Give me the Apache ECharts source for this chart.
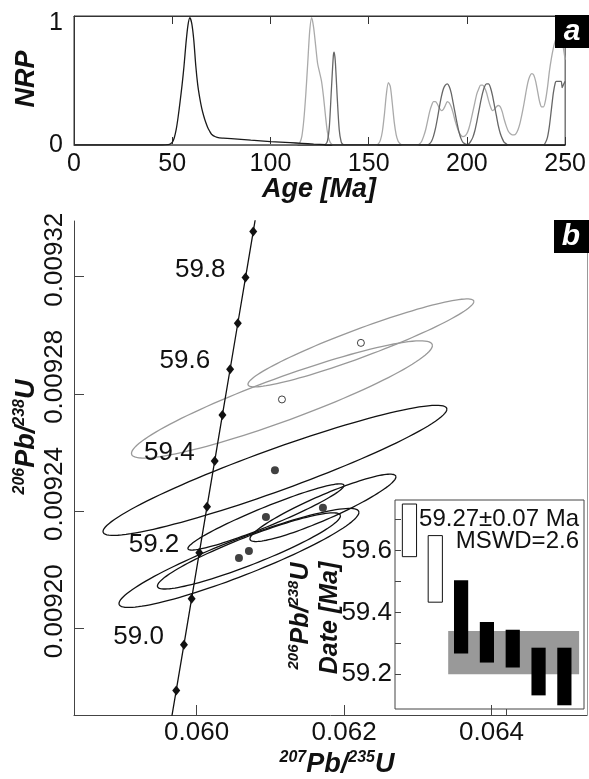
<!DOCTYPE html>
<html>
<head>
<meta charset="utf-8">
<script src="https://cdn.jsdelivr.net/npm/echarts@6/dist/echarts.min.js"></script>
<style>
html, body { margin: 0; padding: 0; background: #fff; }
#chart { width: 589px; height: 779px; }
</style>
</head>
<body>
<div id="chart"></div>
<script>
// ---- panel a : normalised relative probability (NRP) curves ----
const blackAge = [0, 45, 48, 49, 50, 51, 52, 53, 54, 55, 56, 57, 58, 59, 60, 61, 62, 63, 64, 65, 66, 67, 68, 69, 70, 72, 74, 76, 80, 90, 100, 110, 116, 122, 128, 132, 250]
const blackNrp = [0, 0, 0.003, 0.008, 0.02, 0.055, 0.12, 0.22, 0.34, 0.47, 0.62, 0.8, 0.94, 1.0, 0.95, 0.82, 0.62, 0.47, 0.37, 0.29, 0.23, 0.18, 0.14, 0.11, 0.085, 0.065, 0.056, 0.054, 0.05, 0.038, 0.027, 0.018, 0.013, 0.007, 0.002, 0, 0]

const midAge = [0, 127, 128, 129, 130, 131, 132, 132.4, 133, 134, 135, 136, 137, 138,
  180, 181, 182, 183, 184, 185, 186, 187, 188, 189, 190, 191, 192, 193, 194, 195, 196, 197, 198, 199, 200,
  201, 202, 203, 204, 205, 206, 207, 208, 209, 210, 211, 212, 213, 214, 215, 216, 217, 218, 219, 220, 221,
  239, 240, 241, 242, 243, 244, 245, 245.5, 247, 248, 248.5, 249, 250]
const midNrp = [0, 0, 0.005, 0.03, 0.15, 0.43, 0.7, 0.73, 0.66, 0.37, 0.12, 0.025, 0.003, 0,
  0, 0.01, 0.03, 0.07, 0.13, 0.21, 0.3, 0.38, 0.44, 0.47, 0.48, 0.46, 0.41, 0.33, 0.25, 0.17, 0.1, 0.05, 0.02, 0.01, 0.004,
  0.01, 0.03, 0.06, 0.11, 0.18, 0.26, 0.34, 0.41, 0.46, 0.48, 0.48, 0.45, 0.39, 0.31, 0.23, 0.15, 0.09, 0.05, 0.02, 0.01, 0,
  0, 0.02, 0.06, 0.15, 0.28, 0.41, 0.49, 0.5, 0.5, 0.5, 0.45, 0.47, 0.5]

const greyAge = [0, 113, 114, 115, 116, 117, 118, 119, 120, 121, 122, 123, 124, 125, 126, 127, 128, 129, 130, 131, 132,
  154, 155, 156, 157, 158, 159, 160, 161, 162, 163, 164, 165, 166, 167,
  175, 176, 177, 178, 179, 180, 181, 182, 183, 184, 185, 186, 187, 188, 189, 190, 191, 192, 193, 194, 195, 196, 197, 198, 199,
  200, 201, 202, 203, 204, 205, 206, 207, 208, 209, 210, 211, 212, 213, 214, 215, 216, 217, 218, 219, 220, 221, 222, 223, 224,
  225, 226, 227, 228, 229, 230, 231, 232, 233, 234, 235, 236, 237, 238, 239, 240, 241, 242, 243, 244, 245, 246, 247, 248, 249, 250]
const greyNrp = [0, 0, 0.005, 0.02, 0.07, 0.2, 0.4, 0.65, 0.9, 1.0, 0.92, 0.78, 0.64, 0.57, 0.5, 0.38, 0.23, 0.1, 0.035, 0.008, 0,
  0, 0.01, 0.04, 0.11, 0.24, 0.4, 0.49, 0.46, 0.33, 0.18, 0.08, 0.03, 0.01, 0,
  0, 0.01, 0.03, 0.07, 0.12, 0.19, 0.26, 0.31, 0.34, 0.34, 0.32, 0.29, 0.27, 0.28, 0.31, 0.34, 0.33, 0.3, 0.25, 0.19, 0.14, 0.1, 0.075, 0.065, 0.07,
  0.09, 0.13, 0.19, 0.26, 0.33, 0.4, 0.44, 0.47, 0.47, 0.45, 0.41, 0.35, 0.3, 0.27, 0.28, 0.3, 0.31, 0.3, 0.26, 0.2, 0.15, 0.11, 0.09, 0.08, 0.08,
  0.09, 0.12, 0.17, 0.24, 0.32, 0.41, 0.49, 0.54, 0.56, 0.55, 0.5, 0.42, 0.34, 0.3, 0.3, 0.35, 0.45, 0.58, 0.68, 0.76, 0.82, 0.85, 0.86, 0.84, 0.77, 0.67]

// ---- panel b : concordia ----
const concAge = [58.8, 58.9, 59.0, 59.1, 59.2, 59.3, 59.4, 59.5, 59.6, 59.7, 59.8, 59.9, 60.0]
const conc207 = [0.0596187, 0.0597231, 0.0598275, 0.0599318, 0.0600362, 0.0601406, 0.0602450, 0.0603495, 0.0604539, 0.0605584, 0.0606629, 0.0607674, 0.0608720]
const conc206 = [0.0091633, 0.0091788, 0.0091944, 0.0092101, 0.0092258, 0.0092415, 0.0092571, 0.0092728, 0.0092884, 0.0093041, 0.0093197, 0.0093354, 0.0093511]
const concLabelAges = ['59.0', '59.2', '59.4', '59.6', '59.8']

// analyses: 207Pb/235U, 206Pb/238U, half-extents and error correlation
const ellX = [0.062228, 0.061157, 0.061062, 0.061713, 0.060940, 0.060709, 0.060574]
const ellSX = [0.001532, 0.002041, 0.002332, 0.000990, 0.001058, 0.001241, 0.001627]
const ellY = [0.0092974, 0.0092781, 0.0092539, 0.0092411, 0.0092380, 0.0092264, 0.0092240]
const ellSY = [0.0000150, 0.0000200, 0.0000222, 0.0000115, 0.0000113, 0.0000130, 0.0000169]
const ellRho = [0.94, 0.92, 0.94, 0.92, 0.95, 0.92, 0.92]
const ellExcluded = [1, 1, 0, 0, 0, 0, 0]

// ---- inset : 206Pb/238U dates ----
const dateLow = [59.58, 59.433, 59.267, 59.238, 59.222, 59.132, 59.10]
const dateHigh = [59.75, 59.648, 59.504, 59.369, 59.344, 59.286, 59.286]
const meanAge = 59.27
const meanErr = 0.07

const FONT = 'Liberation Sans, Arial, sans-serif'

const chart = echarts.init(document.getElementById('chart'))

function pairs (xs, ys) {
  return xs.map((x, i) => [x, ys[i]])
}

const concData = concAge.map((a, i) => ({
  value: [conc207[i], conc206[i]],
  symbol: (i === 0 || i === concAge.length - 1) ? 'none' : 'diamond',
  label: { show: concLabelAges.includes(a.toFixed(1)), formatter: a.toFixed(1) }
}))

const ellData = ellX.map((x, i) => [x, ellY[i], ellSX[i], ellSY[i], ellRho[i], ellExcluded[i]])

const supStyle = { fontSize: 16, fontWeight: 'bold', fontStyle: 'italic', fontFamily: FONT, fill: '#111', verticalAlign: 'top', lineHeight: 18 }
const mainStyle = { fontSize: 27, fontWeight: 'bold', fontStyle: 'italic', fontFamily: FONT, fill: '#111', lineHeight: 30 }

function richTitle (x, y, text, rotate, size) {
  const m = Object.assign({}, mainStyle, size ? { fontSize: size } : {})
  const s = Object.assign({}, supStyle, size ? { fontSize: Math.round(size * 0.6) } : {})
  return {
    type: 'text',
    x: x,
    y: y,
    rotation: rotate ? Math.PI / 2 : 0,
    style: {
      text: text,
      rich: { s: s, m: m },
      align: 'center',
      verticalAlign: 'middle',
      fontFamily: FONT
    }
  }
}

const option = {
  animation: false,
  backgroundColor: '#fff',
  textStyle: { fontFamily: FONT },
  grid: [
    { left: 74, top: 16, width: 514, height: 129, show: true, borderColor: '#333', borderWidth: 1 },
    { left: 74, top: 221, width: 513, height: 494 },
    { left: 395, top: 500, width: 189, height: 209, show: true, backgroundColor: '#fff', borderColor: '#444', borderWidth: 1 }
  ],
  xAxis: [
    {
      gridIndex: 0, type: 'value', min: 0, max: 250, interval: 50,
      axisLine: { onZero: false, lineStyle: { color: '#333' } },
      axisTick: { inside: true, length: 8, lineStyle: { color: '#333' } },
      axisLabel: { fontSize: 25, color: '#111', margin: 7 },
      splitLine: { show: false }
    },
    {
      gridIndex: 0, type: 'value', position: 'top', min: 0, max: 250, interval: 50,
      axisLine: { onZero: false, lineStyle: { color: '#333' } },
      axisTick: { inside: true, length: 8, lineStyle: { color: '#333' } },
      axisLabel: { show: false },
      splitLine: { show: false }
    },
    {
      gridIndex: 1, type: 'value', min: 0.0583363, max: 0.0652949,
      axisLine: { onZero: false, lineStyle: { color: '#444' } },
      axisTick: { inside: true, length: 10, customValues: [0.060, 0.062, 0.064], lineStyle: { color: '#444' } },
      axisLabel: { fontSize: 26, color: '#111', margin: 5, customValues: [0.060, 0.062, 0.064], formatter: v => v.toFixed(3) },
      splitLine: { show: false }
    },
    {
      gridIndex: 2, type: 'value', min: -0.56, max: 6.76,
      axisLine: { show: false, onZero: false },
      axisTick: { inside: false, length: 7, customValues: [3.76], lineStyle: { color: '#444' } },
      axisLabel: { show: false },
      splitLine: { show: false }
    }
  ],
  yAxis: [
    {
      gridIndex: 0, type: 'value', min: 0, max: 1.013,
      axisLine: { onZero: false, lineStyle: { color: '#333' } },
      axisTick: { show: false },
      axisLabel: {
        fontSize: 25, color: '#111', margin: 11, customValues: [0, 1],
        formatter: v => v === 1 ? '{d|1}' : '0',
        rich: { d: { fontSize: 25, color: '#111', padding: [10, 0, 0, 0] } }
      },
      splitLine: { show: false }
    },
    {
      gridIndex: 1, type: 'value', min: 0.0091704, max: 0.009339,
      axisLine: { onZero: false, lineStyle: { color: '#444' } },
      axisTick: { inside: true, length: 10, customValues: [0.0092, 0.00924, 0.00928, 0.00932], lineStyle: { color: '#444' } },
      axisLabel: {
        fontSize: 26, color: '#111', margin: 6, rotate: 90, padding: [0, 0, 0, 34],
        customValues: [0.0092, 0.00924, 0.00928, 0.00932], formatter: v => v.toFixed(5)
      },
      splitLine: { show: false }
    },
    {
      gridIndex: 1, type: 'value', position: 'right', min: 0.0091704, max: 0.009339,
      axisLine: { show: true, onZero: false, lineStyle: { color: '#999' } },
      axisTick: { show: false },
      axisLabel: { show: false },
      splitLine: { show: false }
    },
    {
      gridIndex: 2, type: 'value', min: 59.088, max: 59.763,
      axisLine: { show: false, onZero: false },
      axisTick: { inside: true, length: 6, customValues: [59.2, 59.3, 59.4, 59.5, 59.6, 59.7], lineStyle: { color: '#444' } },
      axisLabel: { fontSize: 26, color: '#111', margin: 3, customValues: [59.2, 59.4, 59.6], formatter: v => v.toFixed(1) },
      splitLine: { show: false }
    }
  ],
  series: [
    {
      type: 'line', xAxisIndex: 0, yAxisIndex: 0, data: pairs(greyAge, greyNrp),
      symbol: 'none', smooth: 0.25, lineStyle: { color: '#aaa', width: 1.3 }
    },
    {
      type: 'line', xAxisIndex: 0, yAxisIndex: 0, data: pairs(midAge, midNrp),
      symbol: 'none', smooth: 0.25, lineStyle: { color: '#666', width: 1.3 }
    },
    {
      type: 'line', xAxisIndex: 0, yAxisIndex: 0, data: pairs(blackAge, blackNrp),
      symbol: 'none', smooth: 0.25, lineStyle: { color: '#1a1a1a', width: 1.3 }
    },
    {
      type: 'custom', xAxisIndex: 2, yAxisIndex: 1, data: ellData,
      encode: { x: 0, y: 1 },
      renderItem (params, api) {
        const cx = api.value(0)
        const cy = api.value(1)
        const sx = api.value(2)
        const sy = api.value(3)
        const r = api.value(4)
        const pts = []
        for (let k = 0; k <= 120; k++) {
          const t = k / 120 * Math.PI * 2
          pts.push(api.coord([cx + sx * Math.cos(t), cy + sy * (r * Math.cos(t) + Math.sqrt(1 - r * r) * Math.sin(t))]))
        }
        return {
          type: 'polyline',
          shape: { points: pts },
          style: { fill: null, stroke: api.value(5) ? '#999' : '#111', lineWidth: 1.3 }
        }
      }
    },
    {
      type: 'line', xAxisIndex: 2, yAxisIndex: 1, data: concData,
      symbolSize: [8, 10], itemStyle: { color: '#111' },
      lineStyle: { color: '#111', width: 1.3 },
      label: { position: 'left', distance: 16, offset: [0, -8], fontSize: 26, color: '#111' },
      z: 3
    },
    {
      type: 'scatter', xAxisIndex: 2, yAxisIndex: 1,
      data: ellX.map((x, i) => ({
        value: [x, ellY[i]],
        symbolSize: ellExcluded[i] ? 7 : 8,
        itemStyle: ellExcluded[i] ? { color: '#fff', borderColor: '#111', borderWidth: 1 } : { color: '#111' }
      })),
      z: 4
    },
    {
      type: 'custom', xAxisIndex: 3, yAxisIndex: 3,
      data: [[1.5, 6.57, meanAge - meanErr, meanAge + meanErr]],
      encode: { x: 0, y: 2 },
      renderItem (params, api) {
        const p1 = api.coord([api.value(0), api.value(3)])
        const p2 = api.coord([api.value(1), api.value(2)])
        return { type: 'rect', shape: { x: p1[0], y: p1[1], width: p2[0] - p1[0], height: p2[1] - p1[1] }, style: { fill: '#999' } }
      }
    },
    {
      type: 'custom', xAxisIndex: 3, yAxisIndex: 3,
      data: dateLow.map((lo, i) => [i, lo, dateHigh[i], ellExcluded[i]]),
      encode: { x: 0, y: 1 },
      renderItem (params, api) {
        const top = api.coord([api.value(0), api.value(2)])
        const bot = api.coord([api.value(0), api.value(1)])
        const w = api.size([0.55, 0])[0]
        const open = api.value(3)
        return {
          type: 'rect',
          shape: { x: top[0] - w / 2, y: top[1], width: w, height: bot[1] - top[1] },
          style: open ? { fill: '#fff', stroke: '#111', lineWidth: 1 } : { fill: '#000' }
        }
      }
    }
  ],
  graphic: [
    { type: 'rect', shape: { x: 555, y: 15, width: 34, height: 33 }, style: { fill: '#000' }, z: 10 },
    { type: 'text', x: 572, y: 32, style: { text: 'a', fontSize: 30, fontWeight: 'bold', fontStyle: 'italic', fontFamily: FONT, fill: '#fff', align: 'center', verticalAlign: 'middle' }, z: 11 },
    { type: 'rect', shape: { x: 554, y: 220, width: 35, height: 33 }, style: { fill: '#000' }, z: 10 },
    { type: 'text', x: 571, y: 237, style: { text: 'b', fontSize: 30, fontWeight: 'bold', fontStyle: 'italic', fontFamily: FONT, fill: '#fff', align: 'center', verticalAlign: 'middle' }, z: 11 },
    richTitle(27, 79, '{m|NRP}', true),
    richTitle(319, 190, '{m|Age [Ma]}', false),
    richTitle(337, 765, '{s|207}{m|Pb/}{s|235}{m|U}', false),
    richTitle(27, 437, '{s|206}{m|Pb/}{s|238}{m|U}', true),
    richTitle(301, 616, '{s|206}{m|Pb/}{s|238}{m|U}', true, 25),
    richTitle(330, 618, '{m|Date [Ma]}', true, 25),
    { type: 'text', x: 579, y: 519, style: { text: '59.27±0.07 Ma', fontSize: 24, fontFamily: FONT, fill: '#111', align: 'right', verticalAlign: 'middle' }, z: 11 },
    { type: 'text', x: 579, y: 541, style: { text: 'MSWD=2.6', fontSize: 24, fontFamily: FONT, fill: '#111', align: 'right', verticalAlign: 'middle' }, z: 11 }
  ]
}

chart.setOption(option)
</script>
</body>
</html>
